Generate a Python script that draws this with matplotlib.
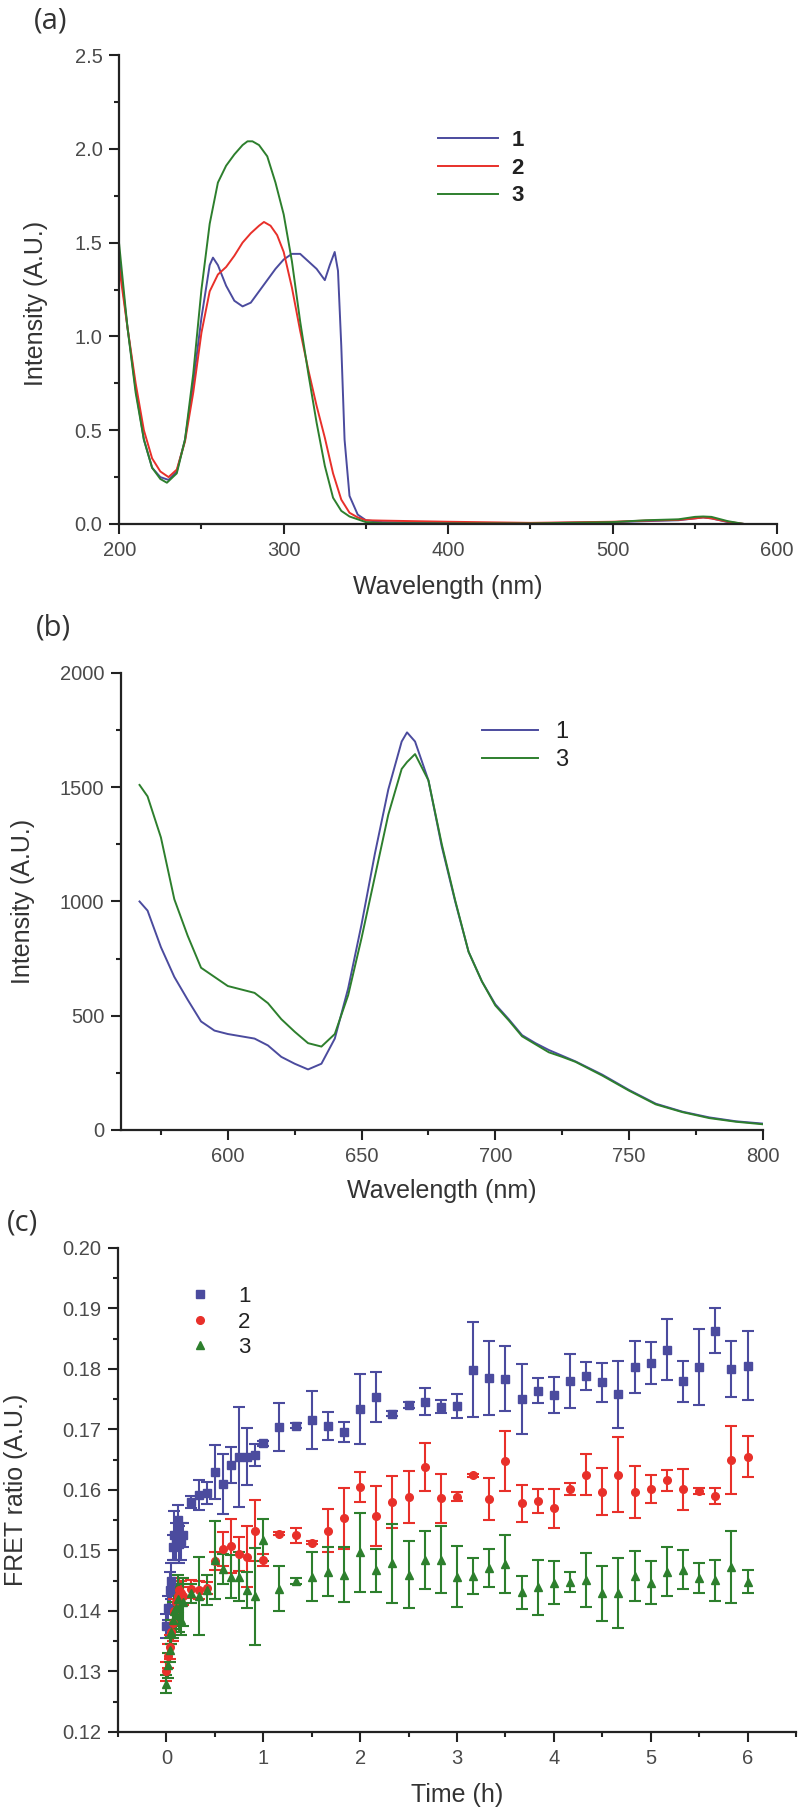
import matplotlib.pyplot as plt
from matplotlib.lines import Line2D
from matplotlib.ticker import MultipleLocator

# ---- panel (a): absorption spectra ----
abs_wl_1 = [200, 205, 210, 215, 220, 225, 230, 235, 240, 245, 250, 255, 257, 260, 265, 270, 275, 280, 285, 290,
            295, 300, 305, 310, 315, 320, 325, 328, 331, 333, 335, 337, 340, 345, 350, 360, 400, 450, 500, 520,
            540, 550, 555, 560, 570, 580, 600]
abs_1 = [1.42, 1.05, 0.72, 0.45, 0.30, 0.25, 0.235, 0.28, 0.45, 0.75, 1.10, 1.38, 1.42, 1.38, 1.27, 1.19, 1.16, 1.18,
         1.24, 1.30, 1.36, 1.41, 1.44, 1.44, 1.40, 1.36, 1.30, 1.38, 1.45, 1.35, 0.95, 0.45, 0.15, 0.05, 0.02, 0.01,
         0.006, 0.004, 0.01, 0.015, 0.02, 0.03, 0.035, 0.03, 0.01, 0.0, 0.0]
abs_wl_2 = [200, 205, 210, 215, 220, 225, 230, 235, 240, 245, 250, 255, 260, 265, 270, 275, 280, 285, 288, 292,
            296, 300, 305, 310, 315, 320, 325, 330, 335, 340, 345, 350, 360, 400, 450, 500, 520, 540, 550, 555,
            560, 570, 580, 600]
abs_2 = [1.37, 1.05, 0.75, 0.50, 0.35, 0.28, 0.25, 0.29, 0.44, 0.70, 1.02, 1.24, 1.33, 1.37, 1.43, 1.50, 1.55, 1.59,
         1.61, 1.59, 1.54, 1.45, 1.26, 1.03, 0.82, 0.63, 0.46, 0.27, 0.13, 0.06, 0.035, 0.02, 0.018, 0.012, 0.006,
         0.012, 0.018, 0.022, 0.03, 0.035, 0.03, 0.012, 0.0, 0.0]
abs_wl_3 = [200, 205, 210, 215, 220, 225, 229, 235, 240, 245, 250, 255, 260, 265, 270, 275, 278, 281, 285, 290,
            295, 300, 305, 310, 315, 320, 325, 330, 335, 340, 345, 350, 360, 400, 450, 500, 510, 520, 540, 550,
            555, 560, 570, 580, 600]
abs_3 = [1.49, 1.05, 0.70, 0.45, 0.30, 0.24, 0.22, 0.27, 0.45, 0.80, 1.25, 1.60, 1.82, 1.91, 1.97, 2.02, 2.04, 2.04,
         2.02, 1.96, 1.82, 1.65, 1.40, 1.08, 0.80, 0.54, 0.31, 0.14, 0.07, 0.04, 0.025, 0.01, 0.004, 0.003, 0.003,
         0.01, 0.015, 0.02, 0.025, 0.038, 0.04, 0.038, 0.015, 0.0, 0.0]

# ---- panel (b): emission spectra ----
em_wl = [567, 570, 575, 580, 585, 590, 595, 600, 605, 610, 615, 620, 625, 630, 635, 640, 645, 650, 655, 660,
         665, 667, 670, 675, 680, 685, 690, 695, 700, 705, 710, 715, 720, 725, 730, 740, 750, 760, 770, 780,
         790, 800]
em_1 = [1000, 960, 800, 670, 570, 475, 435, 420, 410, 400, 370, 320, 290, 265, 290, 400, 620, 900, 1210, 1490,
        1700, 1740, 1700, 1530, 1240, 1000, 780, 650, 550, 485, 415, 380, 350, 325, 300, 242, 175, 115, 80, 55,
        38, 28]
em_3 = [1510, 1460, 1280, 1010, 850, 710, 670, 630, 615, 600, 555, 485, 430, 380, 365, 420, 590, 840, 1110, 1380,
        1580, 1610, 1645, 1530, 1250, 1005, 780, 650, 545, 480, 410, 375, 340, 320, 298, 238, 172, 112, 78, 52,
        36, 25]

# ---- panel (c): FRET ratio over time ----
fret_t = [0, 0.017, 0.033, 0.05, 0.067, 0.083, 0.1, 0.117, 0.133, 0.15, 0.167,
          0.25, 0.333, 0.417, 0.5, 0.583, 0.667, 0.75, 0.833, 0.917, 1.0,
          1.167, 1.333, 1.5, 1.667, 1.833, 2.0, 2.167, 2.333, 2.5, 2.667, 2.833, 3.0, 3.167, 3.333, 3.5,
          3.667, 3.833, 4.0, 4.167, 4.333, 4.5, 4.667, 4.833, 5.0, 5.167, 5.333, 5.5, 5.667, 5.833, 6.0]
fret_1 = [0.1375, 0.1405, 0.1435, 0.1450, 0.1505, 0.1525, 0.1515, 0.1550, 0.1510, 0.1515, 0.1525,
          0.1580, 0.1592, 0.1595, 0.1630, 0.1610, 0.1641, 0.1655, 0.1655, 0.1658, 0.1677,
          0.1704, 0.1706, 0.1716, 0.1706, 0.1696, 0.1734, 0.1754, 0.1726, 0.1741, 0.1746, 0.1738, 0.1739,
          0.1799, 0.1785, 0.1784, 0.1750, 0.1764, 0.1757, 0.1780, 0.1788, 0.1778, 0.1758, 0.1804, 0.1810,
          0.1832, 0.1780, 0.1803, 0.1863, 0.1800, 0.1805]
err_1 = [0.002, 0.002, 0.003, 0.003, 0.002, 0.004, 0.003, 0.0025, 0.003, 0.003, 0.002,
         0.001, 0.0025, 0.0018, 0.0045, 0.005, 0.003, 0.0083, 0.0047, 0.0018, 0.0004,
         0.004, 0.0004, 0.0048, 0.0023, 0.0017, 0.0058, 0.0041, 0.0004, 0.0005, 0.0022, 0.0011, 0.002,
         0.0079, 0.0061, 0.0054, 0.0058, 0.0021, 0.0029, 0.0045, 0.0023, 0.0032, 0.0056, 0.0043, 0.0035,
         0.005, 0.0034, 0.0063, 0.0037, 0.0047, 0.0057]
fret_2 = [0.1300, 0.1325, 0.1340, 0.1365, 0.1380, 0.1400, 0.1415, 0.1425, 0.1435, 0.1430, 0.1425,
          0.1437, 0.1435, 0.1438, 0.1482, 0.1502, 0.1507, 0.1494, 0.1490, 0.1533, 0.1485,
          0.1528, 0.1525, 0.1513, 0.1533, 0.1553, 0.1605, 0.1557, 0.1580, 0.1588, 0.1638, 0.1586, 0.1589,
          0.1624, 0.1585, 0.1648, 0.1578, 0.1582, 0.1570, 0.1601, 0.1625, 0.1597, 0.1625, 0.1597, 0.1602,
          0.1616, 0.1601, 0.1599, 0.1590, 0.1650, 0.1655]
err_2 = [0.0015, 0.002, 0.002, 0.002, 0.003, 0.002, 0.002, 0.002, 0.002, 0.002, 0.0015,
         0.0015, 0.0015, 0.001, 0.0015, 0.0028, 0.0045, 0.0028, 0.005, 0.005, 0.001,
         0.0003, 0.0012, 0.0003, 0.0035, 0.005, 0.0025, 0.005, 0.0043, 0.0043, 0.0039, 0.004, 0.0008,
         0.0003, 0.0034, 0.0049, 0.0031, 0.002, 0.0032, 0.001, 0.0034, 0.0039, 0.0062, 0.0043, 0.0023,
         0.0017, 0.0034, 0.0005, 0.0013, 0.0056, 0.0034]
fret_3 = [0.1280, 0.1310, 0.1335, 0.1365, 0.1385, 0.1400, 0.1405, 0.1420, 0.1405, 0.1385, 0.1415,
          0.1429, 0.1425, 0.1435, 0.1484, 0.1470, 0.1457, 0.1457, 0.1435, 0.1424, 0.1517,
          0.1437, 0.1450, 0.1457, 0.1465, 0.1460, 0.1497, 0.1467, 0.1479, 0.1460, 0.1484, 0.1485, 0.1457,
          0.1458, 0.1471, 0.1477, 0.1431, 0.1439, 0.1447, 0.1448, 0.1451, 0.1429, 0.1430, 0.1458, 0.1447,
          0.1465, 0.1468, 0.1455, 0.1451, 0.1473, 0.1448]
err_3 = [0.0015, 0.002, 0.002, 0.002, 0.003, 0.003, 0.004, 0.004, 0.004, 0.0025, 0.004,
         0.0015, 0.0065, 0.0025, 0.0065, 0.0025, 0.0035, 0.004, 0.003, 0.008, 0.0035,
         0.0037, 0.0005, 0.004, 0.004, 0.0045, 0.0065, 0.0035, 0.0065, 0.0055, 0.0048, 0.0056, 0.005,
         0.003, 0.0032, 0.0048, 0.0027, 0.0045, 0.0036, 0.0016, 0.0045, 0.0046, 0.0058, 0.0041, 0.0035,
         0.004, 0.0032, 0.0025, 0.0034, 0.0059, 0.0019]

BLUE = '#4b4b9e'
RED = '#e8302a'
GREEN = '#2d7f2d'

plt.rcParams['font.family'] = ['Liberation Sans', 'DejaVu Sans']
TICK_COLOR = '#4a4a4a'
LABEL_COLOR = '#333333'
LABEL_SIZE = 18
LEG_SIZE = 16


def style_axes(ax):
    for side in ('top', 'right'):
        ax.spines[side].set_visible(False)
    for side in ('left', 'bottom'):
        ax.spines[side].set_linewidth(1.6)
        ax.spines[side].set_color('#222222')
    ax.tick_params(which='major', direction='out', length=7, width=1.5, pad=5,
                   labelsize=14.5, labelcolor=TICK_COLOR, color='#222222')
    ax.tick_params(which='minor', direction='out', length=3.8, width=1.5, color='#222222')


fig = plt.figure(figsize=(8, 18.1), dpi=100)

# (a)
ax1 = fig.add_axes([0.149, 0.7105, 0.8225, 0.2591])
ax1.plot(abs_wl_1, abs_1, color=BLUE, lw=1.4, label='1')
ax1.plot(abs_wl_2, abs_2, color=RED, lw=1.4, label='2')
ax1.plot(abs_wl_3, abs_3, color=GREEN, lw=1.4, label='3')
ax1.set_xlim(200, 600)
ax1.set_ylim(0, 2.5)
ax1.xaxis.set_major_locator(MultipleLocator(100))
ax1.xaxis.set_minor_locator(MultipleLocator(50))
ax1.yaxis.set_major_locator(MultipleLocator(0.5))
ax1.yaxis.set_minor_locator(MultipleLocator(0.25))
ax1.yaxis.set_major_formatter(plt.FormatStrFormatter('%.1f'))
style_axes(ax1)
ax1.set_xlabel('Wavelength (nm)', fontsize=LABEL_SIZE, color=LABEL_COLOR, va='center')
ax1.set_ylabel('Intensity (A.U.)', fontsize=LABEL_SIZE, color=LABEL_COLOR, va='center')
ax1.xaxis.set_label_coords(0.5, -0.134)
ax1.yaxis.set_label_coords(-0.126, 0.47)
leg = ax1.legend(loc='upper left', bbox_to_anchor=(0.485, 0.84), frameon=False, fontsize=LEG_SIZE,
                 handlelength=2.7, handletextpad=0.6, labelspacing=0.3, borderpad=0, borderaxespad=0)
for txt in leg.get_texts():
    txt.set_fontweight('bold')
    txt.set_color('#222222')
fig.text(0.042, 1 - 21 / 1810, '(a)', fontsize=21, family='Open Sans', color='#333333', va='center')

# (b)
ax2 = fig.add_axes([0.151, 0.3757, 0.8025, 0.2525])
ax2.plot(em_wl, em_1, color=BLUE, lw=1.4, label='1')
ax2.plot(em_wl, em_3, color=GREEN, lw=1.4, label='3')
ax2.set_xlim(560, 800)
ax2.set_ylim(0, 2000)
ax2.xaxis.set_major_locator(MultipleLocator(50))
ax2.xaxis.set_minor_locator(MultipleLocator(25))
ax2.yaxis.set_major_locator(MultipleLocator(500))
ax2.yaxis.set_minor_locator(MultipleLocator(250))
style_axes(ax2)
ax2.set_xlabel('Wavelength (nm)', fontsize=LABEL_SIZE, color=LABEL_COLOR, va='center')
ax2.set_ylabel('Intensity (A.U.)', fontsize=LABEL_SIZE, color=LABEL_COLOR, va='center')
ax2.xaxis.set_label_coords(0.5, -0.133)
ax2.yaxis.set_label_coords(-0.153, 0.5)
leg = ax2.legend(loc='upper left', bbox_to_anchor=(0.562, 0.895), frameon=False, fontsize=LEG_SIZE + 1,
                 handlelength=2.4, handletextpad=0.7, labelspacing=0.25, borderpad=0, borderaxespad=0)
for txt in leg.get_texts():
    txt.set_color('#222222')
fig.text(0.045, 1 - 628 / 1810, '(b)', fontsize=21, family='Open Sans', color='#333333', va='center')

# (c)
ax3 = fig.add_axes([0.1475, 0.0431, 0.8475, 0.2674])
series = [(fret_1, err_1, BLUE, 's'), (fret_2, err_2, RED, 'o'), (fret_3, err_3, GREEN, '^')]
for vals, errs, col, mk in series:
    ax3.errorbar(fret_t, vals, yerr=errs, fmt=mk, color=col, ecolor=col, ms=5.5, mec=col,
                 elinewidth=1.5, capsize=4.5, capthick=1.5)
ax3.set_xlim(-0.5, 6.5)
ax3.set_ylim(0.12, 0.20)
ax3.xaxis.set_major_locator(MultipleLocator(1))
ax3.xaxis.set_minor_locator(MultipleLocator(0.5))
ax3.yaxis.set_major_locator(MultipleLocator(0.01))
ax3.yaxis.set_minor_locator(MultipleLocator(0.005))
ax3.yaxis.set_major_formatter(plt.FormatStrFormatter('%.2f'))
style_axes(ax3)
ax3.set_xlabel('Time (h)', fontsize=LABEL_SIZE, color=LABEL_COLOR, va='center')
ax3.set_ylabel('FRET ratio (A.U.)', fontsize=LABEL_SIZE, color=LABEL_COLOR, va='center')
ax3.xaxis.set_label_coords(0.5, -0.13)
ax3.yaxis.set_label_coords(-0.15, 0.5)
handles = [Line2D([], [], ls='none', marker=mk, color=col, ms=5.5) for _, _, col, mk in series]
leg = ax3.legend(handles, ['1', '2', '3'], loc='upper left', bbox_to_anchor=(0.105, 0.921), frameon=False,
                 fontsize=LEG_SIZE, handlelength=1.0, handletextpad=1.2, labelspacing=0.2,
                 borderpad=0, borderaxespad=0)
for txt in leg.get_texts():
    txt.set_color('#222222')
fig.text(0.008, 1 - 1223 / 1810, '(c)', fontsize=21, family='Open Sans', color='#333333', va='center')

fig.savefig('out.png', dpi=100)
